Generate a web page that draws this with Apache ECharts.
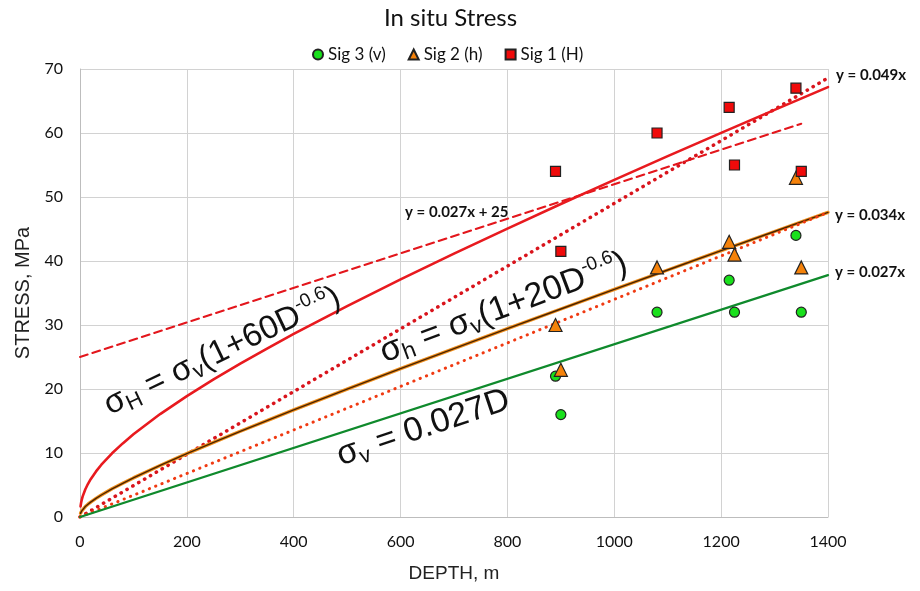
<!DOCTYPE html>
<html><head><meta charset="utf-8">
<script src="https://cdn.jsdelivr.net/npm/echarts@6/dist/echarts.min.js"></script>
<style>html,body{margin:0;padding:0;background:#fff}#c{width:920px;height:591px}</style>
</head><body><div id="c"></div><script>
// measured points
const depthSamples = [890, 900, 1080, 1215, 1225, 1340, 1350];
const sig3 = [22, 16, 32, 37, 32, 44, 32];
const sig2 = [30, 23, 39, 43, 41, 53, 39];
const sig1 = [54, 41.5, 60, 64, 55, 67, 54];
// curves
const curveDepths = [1, 2, 3, 5, 10, 15, 20, 30, 40, 60, 80, 100, 150, 200, 250, 300, 350, 400, 500, 600, 700, 800, 900, 1000, 1100, 1200, 1300, 1400];
const sigmaHcurve = [1.65, 2.19, 2.59, 3.22, 4.34, 5.19, 5.91, 7.12, 8.17, 9.95, 11.50, 12.92, 16.08, 18.89, 21.5, 23.97, 26.32, 28.6, 32.95, 37.13, 41.15, 45.07, 48.91, 52.68, 56.38, 60.02, 63.62, 67.17];
const sigmahcurve = [0.57, 0.77, 0.92, 1.16, 1.63, 2.0, 2.33, 2.91, 3.44, 4.40, 5.27, 6.11, 8.06, 9.90, 11.66, 13.39, 15.07, 16.73, 19.98, 23.18, 26.32, 29.42, 32.50, 35.56, 38.59, 41.61, 44.61, 47.59];
// straight lines (end points)
const sigmaVline = [[0, 0], [1400, 37.8]];
const fit049 = [[0, 0], [1400, 68.6]];
const fit034 = [[0, 0], [1400, 47.6]];
const fitDashed = [[0, 25], [1350, 61.45]];
const xMax = 1400, xStep = 200, yMax = 70, yStep = 10;

const pairs = (xs, ys) => xs.map((x, i) => [x, ys[i]]);
const dot = [0.3, 6.5];
const chart = echarts.init(document.getElementById('c'));
const F = 'Lato, "Open Sans", sans-serif';
const A = '"Liberation Sans", Arial, sans-serif';
function lineS(data, color, width, type) {
  return {type: 'line', data: data, symbol: 'none', silent: true, smooth: false,
    lineStyle: {color: color, width: width, type: type || 'solid', cap: 'round', join: 'round'}};
}
function eqText(x, y, deg, txt, size, sub, sup) {
  const r = {
    m: {fontSize: size, fontFamily: A, fill: '#111', lineHeight: Math.round(size * 1.15)},
    s: {fontSize: sub, fontFamily: A, fill: '#111', lineHeight: Math.round(sub * 0.7), verticalAlign: 'bottom'},
    p: {fontSize: sup, fontFamily: A, fill: '#111', lineHeight: Math.round(sup * 0.7), verticalAlign: 'top'}
  };
  return {type: 'text', x: x, y: y, rotation: deg * Math.PI / 180, z: 50,
    style: {text: txt, rich: r, textAlign: 'left', textVerticalAlign: 'bottom'}};
}
function smallText(x, y, txt) {
  return {type: 'text', x: x, y: y, z: 50,
    style: {text: txt, fill: '#111', font: 'bold 15px ' + F, textAlign: 'left', textVerticalAlign: 'middle'}};
}
chart.setOption({
  animation: false,
  backgroundColor: '#fff',
  title: {text: 'In situ Stress', left: 379, top: 1,
    textStyle: {fontFamily: F, fontSize: 24, fontWeight: 'normal', color: '#111'}},
  legend: {top: 41, left: 307, itemGap: 22, itemWidth: 10, itemHeight: 10,
    data: ['Sig 3 (v)', 'Sig 2 (h)', 'Sig 1 (H)'],
    textStyle: {fontFamily: F, fontSize: 17, color: '#111'}},
  grid: {left: 80, right: 92, top: 69, bottom: 74},
  xAxis: {type: 'value', min: 0, max: xMax, interval: xStep,
    name: 'DEPTH, m', nameLocation: 'middle', nameGap: 47,
    nameTextStyle: {fontFamily: A, fontSize: 19, color: '#222'},
    axisLine: {lineStyle: {color: '#bdbdbd'}}, axisTick: {show: false},
    axisLabel: {fontFamily: F, fontSize: 16, color: '#111', margin: 17, formatter: v => String(v)},
    splitLine: {lineStyle: {color: '#d2d2d2'}}},
  yAxis: {type: 'value', min: 0, max: yMax, interval: yStep,
    name: 'STRESS, MPa', nameLocation: 'middle', nameGap: 45,
    nameTextStyle: {fontFamily: A, fontSize: 20, color: '#222'},
    axisLine: {show: true, lineStyle: {color: '#bdbdbd'}}, axisTick: {show: false},
    axisLabel: {fontFamily: F, fontSize: 16, color: '#111', margin: 17},
    splitLine: {lineStyle: {color: '#d2d2d2'}}},
  series: [
    lineS(fitDashed, '#e3161c', 2, [8, 5]),
    lineS(fit049, '#d9141c', 3.5, dot),
    lineS(pairs(curveDepths, sigmaHcurve), '#e81a1f', 2.6),
    lineS(pairs(curveDepths, sigmahcurve), '#f0901e', 3.4),
    lineS(pairs(curveDepths, sigmahcurve), '#4a2300', 1.4),
    lineS(fit034, '#f03a12', 3, dot),
    lineS(sigmaVline, '#0f8a2c', 2.2),
    {name: 'Sig 3 (v)', type: 'scatter', data: pairs(depthSamples, sig3), symbol: 'circle', symbolSize: 10, z: 10,
      itemStyle: {color: '#19e01c', borderColor: '#222', borderWidth: 1.2, opacity: 1}},
    {name: 'Sig 2 (h)', type: 'scatter', data: pairs(depthSamples, sig2), symbol: 'triangle', symbolSize: 13, z: 10,
      itemStyle: {color: '#f5820a', borderColor: '#222', borderWidth: 1.2, opacity: 1}},
    {name: 'Sig 1 (H)', type: 'scatter', data: pairs(depthSamples, sig1), symbol: 'rect', symbolSize: 10, z: 10,
      itemStyle: {color: '#f00a0a', borderColor: '#222', borderWidth: 1.2, opacity: 1}}
  ],
  graphic: [
    eqText(114, 424, 25.5, '{m|σ}{s|H}{m| = σ}{s|v}{m|(1+60D}{p|-0.6}{m|)}', 33, 22, 19),
    eqText(388, 372, 20.5, '{m|σ}{s|h}{m| = σ}{s|v}{m|(1+20D}{p|-0.6}{m|)}', 34, 23, 19),
    eqText(344, 475, 18.5, '{m|σ}{s|v}{m| = 0.027D}', 34, 22, 18),
    smallText(836, 75, 'y = 0.049x'),
    smallText(835, 215, 'y = 0.034x'),
    smallText(835, 272, 'y = 0.027x'),
    smallText(405, 212, 'y = 0.027x + 25')
  ]
});
</script></body></html>
